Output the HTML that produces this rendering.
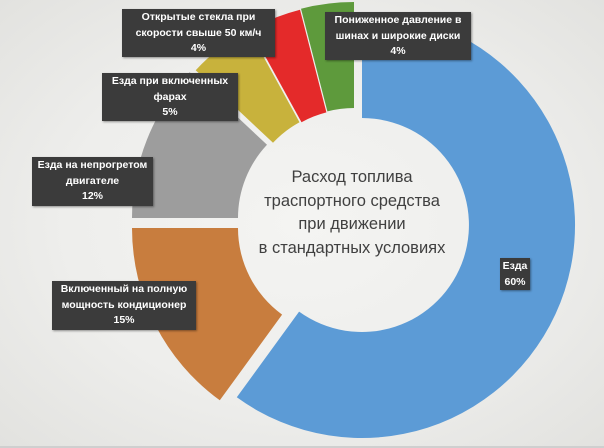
<!DOCTYPE html>
<html><head><meta charset="utf-8">
<style>
html,body{margin:0;padding:0;}
body{width:604px;height:448px;overflow:hidden;position:relative;background:#ececea;font-family:"Liberation Sans","DejaVu Sans",sans-serif;}
#bg{position:absolute;left:0;top:0;width:604px;height:446px;background:radial-gradient(ellipse at 50% 50%,#f4f4f2 0%,#eeeeec 55%,#e2e2df 100%);border-bottom:2px solid #cfcfcf;}
svg{position:absolute;left:0;top:0;}
.lb{position:absolute;background:#3b3b3b;color:#fff;font-weight:bold;font-size:10.5px;line-height:15.5px;text-align:center;box-sizing:border-box;padding-top:1px;box-shadow:1px 1px 2px rgba(0,0,0,.4);white-space:nowrap;}
.ct{position:absolute;left:232px;top:166px;width:240px;text-align:center;color:#404040;font-size:16.5px;line-height:23.5px;font-family:"Liberation Sans",sans-serif;}
</style></head><body>
<div id="bg"></div>
<svg id="s" width="604" height="448" viewBox="0 0 604 448"></svg>
<div class="ct">Расход топлива<br>траспортного средства<br>при движении<br>в стандартных условиях</div>
<div class="lb" style="left:122px;top:9px;width:153px;height:48px;">Открытые стекла при<br>скорости свыше 50 км/ч<br>4%</div>
<div class="lb" style="left:325px;top:12px;width:146px;height:48px;">Пониженное давление в<br>шинах и широкие диски<br>4%</div>
<div class="lb" style="left:102px;top:73px;width:136px;height:48px;">Езда при включенных<br>фарах<br>5%</div>
<div class="lb" style="left:32px;top:157px;width:121px;height:49px;">Езда на непрогретом<br>двигателе<br>12%</div>
<div class="lb" style="left:52px;top:281px;width:144px;height:49px;">Включенный на полную<br>мощность кондиционер<br>15%</div>
<div class="lb" style="left:500px;top:258px;width:30px;height:32px;">Езда<br>60%</div>
<script>
var segs=[
 [362,225,0,216,'#5c9bd6'],
 [345,228,216,270,'#c87d3e'],
 [345,218,270,313.2,'#9d9d9d'],
 [351,216,313.2,331.2,'#c8b23c'],
 [353,216,331.2,345.6,'#e42a2a'],
 [354,215,345.6,360,'#5e9a3c']
];
var R=213,r=107,h='';
function p(cx,cy,rad,a){a=a*Math.PI/180;return (cx+rad*Math.sin(a)).toFixed(1)+','+(cy-rad*Math.cos(a)).toFixed(1);}
segs.forEach(function(s){
 var cx=s[0],cy=s[1],a0=s[2],a1=s[3],lg=(a1-a0)>180?1:0;
 h+='<path fill="'+s[4]+'" d="M'+p(cx,cy,R,a0)+' A'+R+','+R+' 0 '+lg+' 1 '+p(cx,cy,R,a1)+' L'+p(cx,cy,r,a1)+' A'+r+','+r+' 0 '+lg+' 0 '+p(cx,cy,r,a0)+' Z"/>';
});
document.getElementById('s').innerHTML=h;
</script>
</body></html>
